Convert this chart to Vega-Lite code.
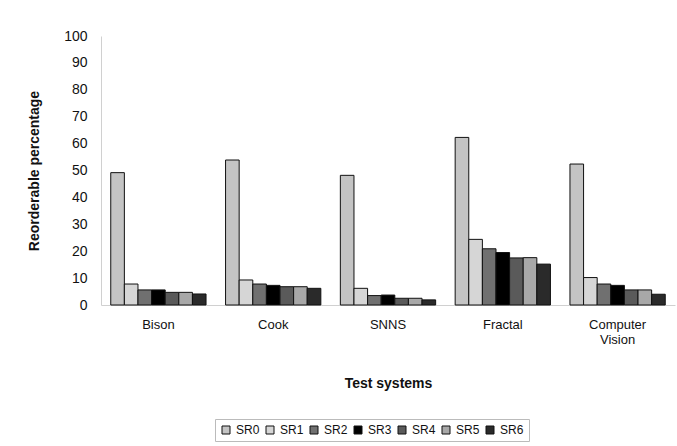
{
  "$schema": "https://vega.github.io/schema/vega-lite/v6.json",
  "autosize": "none",
  "width": 574,
  "height": 269,
  "padding": {"left": 101, "top": 36, "right": 2, "bottom": 141},
  "background": "white",
  "config": {
    "view": {"stroke": null},
    "font": "Liberation Sans"
  },
  "data": {
    "values": [
      {"system": "Bison", "sr": "SR0", "value": 49.2},
      {"system": "Bison", "sr": "SR1", "value": 7.8},
      {"system": "Bison", "sr": "SR2", "value": 5.6},
      {"system": "Bison", "sr": "SR3", "value": 5.6},
      {"system": "Bison", "sr": "SR4", "value": 4.7},
      {"system": "Bison", "sr": "SR5", "value": 4.7},
      {"system": "Bison", "sr": "SR6", "value": 4.1},
      {"system": "Cook", "sr": "SR0", "value": 53.9},
      {"system": "Cook", "sr": "SR1", "value": 9.3},
      {"system": "Cook", "sr": "SR2", "value": 7.8},
      {"system": "Cook", "sr": "SR3", "value": 7.3},
      {"system": "Cook", "sr": "SR4", "value": 6.8},
      {"system": "Cook", "sr": "SR5", "value": 6.8},
      {"system": "Cook", "sr": "SR6", "value": 6.2},
      {"system": "SNNS", "sr": "SR0", "value": 48.2},
      {"system": "SNNS", "sr": "SR1", "value": 6.2},
      {"system": "SNNS", "sr": "SR2", "value": 3.5},
      {"system": "SNNS", "sr": "SR3", "value": 3.7},
      {"system": "SNNS", "sr": "SR4", "value": 2.5},
      {"system": "SNNS", "sr": "SR5", "value": 2.5},
      {"system": "SNNS", "sr": "SR6", "value": 1.9},
      {"system": "Fractal", "sr": "SR0", "value": 62.3},
      {"system": "Fractal", "sr": "SR1", "value": 24.4},
      {"system": "Fractal", "sr": "SR2", "value": 20.9},
      {"system": "Fractal", "sr": "SR3", "value": 19.5},
      {"system": "Fractal", "sr": "SR4", "value": 17.5},
      {"system": "Fractal", "sr": "SR5", "value": 17.6},
      {"system": "Fractal", "sr": "SR6", "value": 15.2},
      {"system": "Computer Vision", "sr": "SR0", "value": 52.4},
      {"system": "Computer Vision", "sr": "SR1", "value": 10.2},
      {"system": "Computer Vision", "sr": "SR2", "value": 7.8},
      {"system": "Computer Vision", "sr": "SR3", "value": 7.3},
      {"system": "Computer Vision", "sr": "SR4", "value": 5.6},
      {"system": "Computer Vision", "sr": "SR5", "value": 5.6},
      {"system": "Computer Vision", "sr": "SR6", "value": 4.0}
    ]
  },
  "mark": {"type": "bar", "stroke": "#111111", "strokeWidth": 1},
  "encoding": {
    "x": {
      "field": "system",
      "type": "nominal",
      "sort": ["Bison", "Cook", "SNNS", "Fractal", "Computer Vision"],
      "scale": {"paddingInner": 0.17, "paddingOuter": 0.085},
      "axis": {
        "title": "Test systems",
        "titleFontSize": 14,
        "titleFontWeight": "bold",
        "titleColor": "#111111",
        "titlePadding": 30,
        "labelAngle": 0,
        "labelFontSize": 13,
        "labelColor": "#111111",
        "labelPadding": 13,
        "ticks": false,
        "domainColor": "#d0d0d0",
        "labelExpr": "datum.value == 'Computer Vision' ? ['Computer', 'Vision'] : datum.value"
      }
    },
    "xOffset": {
      "field": "sr",
      "type": "nominal",
      "scale": {"paddingInner": 0, "paddingOuter": 0}
    },
    "y": {
      "field": "value",
      "type": "quantitative",
      "scale": {"domain": [0, 100]},
      "axis": {
        "title": "Reorderable percentage",
        "titleFontSize": 14,
        "titleFontWeight": "bold",
        "titleColor": "#111111",
        "titlePadding": 22,
        "values": [0, 10, 20, 30, 40, 50, 60, 70, 80, 90, 100],
        "grid": false,
        "ticks": false,
        "labelFontSize": 14,
        "labelColor": "#111111",
        "labelPadding": 14,
        "domainColor": "#d0d0d0"
      }
    },
    "fill": {
      "field": "sr",
      "type": "nominal",
      "scale": {
        "domain": ["SR0", "SR1", "SR2", "SR3", "SR4", "SR5", "SR6"],
        "range": ["#c4c4c4", "#d6d6d6", "#707070", "#000000", "#5a5a5a", "#a8a8a8", "#2a2a2a"]
      },
      "legend": {
        "title": null,
        "orient": "none",
        "legendX": 114,
        "legendY": 383,
        "direction": "horizontal",
        "symbolType": "square",
        "symbolSize": 64,
        "symbolStrokeColor": "#111111",
        "symbolStrokeWidth": 1,
        "labelFontSize": 12,
        "labelColor": "#111111",
        "columnPadding": 4,
        "labelOffset": 4,
        "padding": 5,
        "strokeColor": "#bbbbbb"
      }
    }
  }
}
